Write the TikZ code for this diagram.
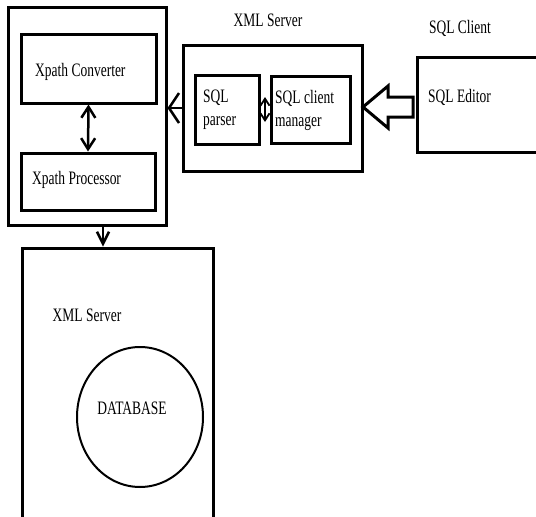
\documentclass[tikz,border=0pt]{standalone}
\usepackage{fontspec}
\setmainfont{Liberation Serif}
\usepackage{graphicx}
\usetikzlibrary{arrows.meta, positioning, shapes.geometric}

% 窄字体
\newcommand{\slim}[1]{\scalebox{0.71}[1]{#1}}
\newcommand{\twoline}[2]{\slim{\begin{tabular}{@{}l@{}}#1\\#2\end{tabular}}}

\begin{document}
\begin{tikzpicture}[x=1pt, y=-1pt,
	box/.style={draw, line width=3pt, rectangle, inner sep=0pt},
	lbl/.style={inner sep=0pt, font=\fontsize{19}{23}\selectfont},
	arr/.style={line width=2.5pt, -{Straight Barb[length=10pt,width=30pt]}},
	arrdown/.style={line width=2.5pt, -{Straight Barb[length=12pt,width=12pt]}},
	arrboth/.style={line width=2.5pt, {Straight Barb[length=11pt,width=14pt]}-{Straight Barb[length=11pt,width=14pt]}},
	arrsmall/.style={line width=1.8pt, {Straight Barb[length=7pt,width=9pt]}-{Straight Barb[length=7pt,width=9pt]}}
	]
	\useasboundingbox (0,0) rectangle (536,517);
	
	% Xpath 部分
	\node[box, minimum width=158, minimum height=218] (xpath) at (87,116) {};
	\node[box, minimum width=135, minimum height=69] (conv) at (88.5,68.5) {};
	\node[box, minimum width=134, minimum height=57] (proc) at (88,181.5) {};
	\node[lbl, anchor=west] (convtxt) at (35,72) {\slim{Xpath Converter}};
	\node[lbl, anchor=west] (proctxt) at (32,180) {\slim{Xpath Processor}};
	\draw[arrboth] (conv.south) -- (proc.north);
	
	% 中间的 XML Server
	\node[box, minimum width=179, minimum height=126] (xserver) at (272.5,108) {};
	\node[lbl] (xservertxt) at (268,20) {\slim{XML Server}};
	\node[box, minimum width=64, minimum height=69] (parser) at (227,109.5) {};
	\node[box, minimum width=79, minimum height=67] (manager) at (310.5,109.5) {};
	\node[lbl, anchor=north west] (parsertxt) at (203,86) {\twoline{SQL}{parser}};
	\node[lbl, anchor=north west] (managertxt) at (275,87) {\twoline{SQL client}{manager}};
	\coordinate (gaptop) at (265,97);
	\coordinate (gapbot) at (265,122);
	\draw[arrsmall] (gaptop) -- (gapbot);
	\draw[arr] (xserver.west) -- (xpath.east |- xserver.west);
	
	% SQL Client
	\node[box, minimum width=128, minimum height=95] (editor) at (481,104.5) {};
	\node[lbl] (clienttxt) at (460,28) {\slim{SQL Client}};
	\node[lbl, anchor=west] (editortxt) at (428,97) {\slim{SQL Editor}};
	
	% 空心大箭头
	\coordinate (tip) at (363,107);
	\draw[line width=3pt, line join=miter] (tip) -- (388,86) -- (388,97) -- (413,97)
		-- (413,117) -- (388,117) -- (388,128) -- cycle;
	
	% 下面的数据库
	\node[box, minimum width=191, minimum height=277] (dbbox) at (117.5,386.5) {};
	\node[lbl] (dbservertxt) at (87,315) {\slim{XML Server}};
	\node[draw, ellipse, line width=2pt, minimum width=126, minimum height=140] (db) at (140,417) {};
	\node[lbl] (dbtxt) at (132,408) {\slim{DATABASE}};
	\draw[arrdown] ([xshift=16pt]xpath.south) -- ([xshift=16pt]xpath.south |- dbbox.north);
\end{tikzpicture}
\end{document}
